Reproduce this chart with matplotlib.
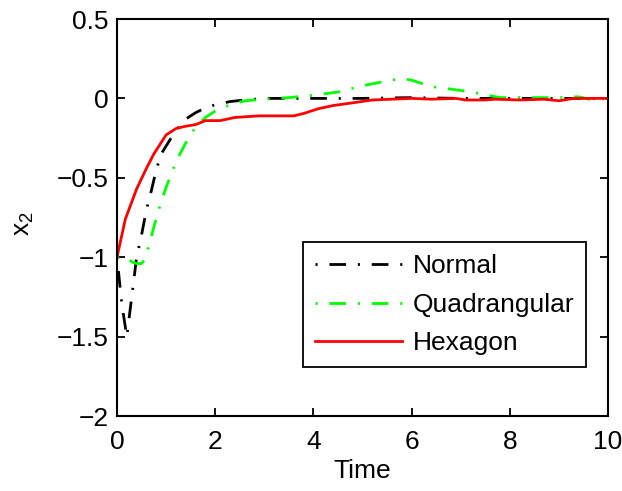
import matplotlib
matplotlib.use('Agg')
import matplotlib.pyplot as plt
import numpy as np

plt.rcParams['font.family'] = ['Liberation Sans', 'DejaVu Sans']
plt.rcParams['mathtext.default'] = 'regular'
plt.rcParams['lines.scale_dashes'] = False

# Normal
normal_t = [0, 0.1, 0.2, 0.3, 0.4, 0.5, 0.6, 0.7, 0.8, 0.9, 1.0, 1.2, 1.4, 1.6, 1.8,
            2.0, 2.3, 2.6, 3.0, 3.5, 4.0, 5.0, 6.0, 7.0, 8.0, 9.0, 10.0]
normal = [-1.0, -1.3, -1.5, -1.25, -1.0, -0.86, -0.7, -0.58, -0.45, -0.35, -0.3, -0.2,
          -0.13, -0.09, -0.06, -0.04, -0.02, -0.01, 0.0, 0.0, 0.0, 0.0, 0.005, 0.0, 0.0, 0.0, 0.0]

# Quadrangular
quad_t = [0, 0.2, 0.3, 0.4, 0.5, 0.55, 0.65, 0.75, 0.85, 1.0, 1.2, 1.4, 1.6, 1.8, 2.0,
          2.3, 2.6, 3.0, 3.5, 4.0, 4.5, 5.0, 5.5, 5.8, 6.0, 6.4, 7.0, 7.4, 7.8, 8.5,
          9.0, 9.4, 9.7, 10.0]
quad = [-1.0, -1.0, -1.03, -1.04, -1.04, -1.02, -0.93, -0.81, -0.7, -0.56, -0.4, -0.28,
        -0.18, -0.12, -0.08, -0.04, -0.015, -0.005, 0.005, 0.02, 0.04, 0.08, 0.11, 0.125,
        0.115, 0.075, 0.05, 0.03, 0.005, 0.005, 0.005, 0.01, -0.01, 0.0]

# Hexagon
hex_t = [0, 0.17, 0.4, 0.6, 0.75, 1.0, 1.2, 1.4, 1.6, 1.8, 2.1, 2.4, 2.9, 3.6, 3.8,
         4.1, 4.4, 4.75, 5.2, 5.6, 6.0, 6.4, 6.9, 7.1, 7.5, 7.7, 8.2, 8.7, 9.0, 9.3, 9.6, 10.0]
hexagon = [-1.0, -0.76, -0.57, -0.44, -0.35, -0.23, -0.19, -0.175, -0.165, -0.14, -0.14,
           -0.12, -0.11, -0.11, -0.095, -0.065, -0.045, -0.03, -0.01, -0.005, 0.0, -0.005,
           0.0, -0.01, -0.01, -0.005, -0.01, -0.005, -0.015, 0.0, 0.0, 0.0]

fig = plt.figure(figsize=(6.22, 4.91), dpi=100)
ax = fig.add_axes([117/622, 1 - 416/491, (608-117)/622, (416-19)/491])

# matlab-ish dash-dot, starting on the dot
dashdot = (20.5, (12, 8.5, 1.5, 8.5))
ax.plot(normal_t, normal, color='k', lw=2, linestyle=dashdot, label='Normal')
ax.plot(quad_t, quad, color=(0, 1, 0), lw=2, linestyle=dashdot, label='Quadrangular')
ax.plot(hex_t, hexagon, color='r', lw=2, label='Hexagon')

ax.set_xlim(0, 10)
ax.set_ylim(-2, 0.5)
ax.set_xticks([0, 2, 4, 6, 8, 10])
ax.set_yticks([-2, -1.5, -1, -0.5, 0, 0.5])
ax.set_yticklabels(['\u22122', '\u22121.5', '\u22121', '\u22120.5', '0', '0.5'])
ax.tick_params(direction='in', top=True, right=True, length=6, width=1.3, labelsize=19)
ax.tick_params(axis='x', pad=10)
ax.tick_params(axis='y', pad=6)
for s in ax.spines.values():
    s.set_linewidth(1.5)

ax.set_xlabel('Time', fontsize=19, labelpad=4)
ax.set_ylabel('$x_2$', fontsize=19)
ax.yaxis.set_label_coords(-0.165, 0.485)

leg = ax.legend(loc='lower right', bbox_to_anchor=(0.955, 0.123), borderaxespad=0,
                fontsize=19, handlelength=3.3, handletextpad=0.4, labelspacing=0.55,
                fancybox=False, framealpha=1, edgecolor='k', borderpad=0.45)
leg.get_frame().set_linewidth(1.3)

fig.savefig('out.png', dpi=100)
